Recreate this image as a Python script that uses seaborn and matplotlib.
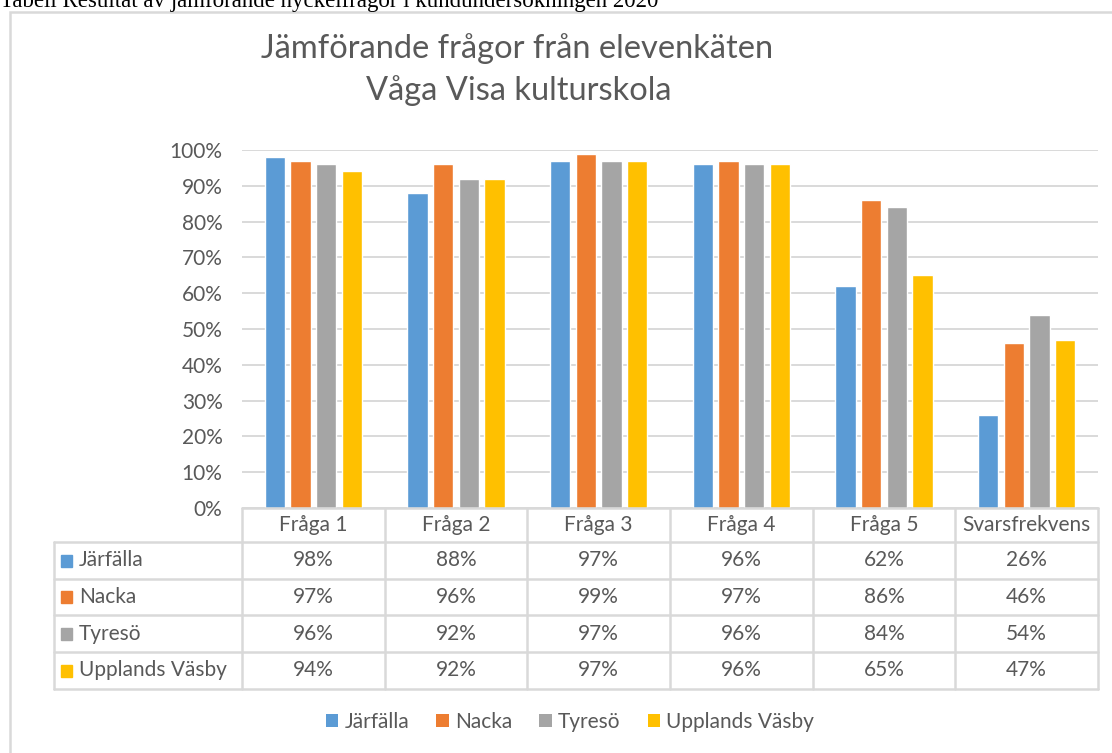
import numpy as np
import pandas as pd
import matplotlib
matplotlib.use('Agg')
import matplotlib.pyplot as plt
import seaborn as sns
from matplotlib.patches import Rectangle, Patch
from matplotlib import transforms

fragor = ['Fråga 1', 'Fråga 2', 'Fråga 3', 'Fråga 4', 'Fråga 5', 'Svarsfrekvens']
kommuner = ['Järfälla', 'Nacka', 'Tyresö', 'Upplands Väsby']
jarfalla = [98, 88, 97, 96, 62, 26]
nacka = [97, 96, 99, 97, 86, 46]
tyreso = [96, 92, 97, 96, 84, 54]
upplands_vasby = [94, 92, 97, 96, 65, 47]
farger = ['#5B9BD5', '#ED7D31', '#A5A5A5', '#FFC000']

titel_rad1 = 'Jämförande frågor från elevenkäten'
titel_rad2 = 'Våga Visa kulturskola'
rubrik = 'Tabell Resultat av jämförande nyckelfrågor i kundundersökningen 2020'

varden = [jarfalla, nacka, tyreso, upplands_vasby]
df = pd.DataFrame({
    'Fråga': fragor * len(kommuner),
    'Kommun': np.repeat(kommuner, len(fragor)),
    'Andel': np.concatenate(varden) / 100.0,
})

sns.set_style('white')
plt.rcParams['font.family'] = ['Lato', 'DejaVu Sans']
textfarg = '#595959'
linjefarg = '#D9D9D9'
fs = 15

W, H = 1112, 753
def fx(px):
    return px / W
def fy(py):
    return 1 - py / H

fig = plt.figure(figsize=(W / 100, H / 100), dpi=100)

# outer chart frame (runs past the right and bottom edge)
fig.patches.append(Rectangle((fx(10), fy(790)), fx(1150) - fx(10), fy(12) - fy(790),
                             transform=fig.transFigure, fill=False,
                             edgecolor=linjefarg, lw=1.8))

# caption above the chart, cut at the top as in the screenshot
fig.text(fx(0), fy(7), rubrik, family='Liberation Serif', fontsize=16.5,
         ha='left', va='baseline', color='black')

fig.text(fx(517), fy(58), titel_rad1, ha='center', va='baseline', fontsize=23.5, color=textfarg)
fig.text(fx(519), fy(100), titel_rad2, ha='center', va='baseline', fontsize=23.5, color=textfarg)

# bar chart
x0, x1, ytop, ybot = 242, 1098, 150, 508
ax = fig.add_axes([fx(x0), fy(ybot), fx(x1) - fx(x0), fy(ytop) - fy(ybot)])
sns.barplot(data=df, x='Fråga', y='Andel', hue='Kommun', hue_order=kommuner,
            order=fragor, palette=farger, width=0.72, gap=0.2, errorbar=None,
            saturation=1, legend=False, ax=ax)
ax.set_ylim(0, 1)
ax.set_xlim(-0.5, len(fragor) - 0.5)
ax.set_yticks(np.arange(0, 1.01, 0.1))
ax.set_yticklabels([f'{int(round(v * 100))}%' for v in np.arange(0, 1.01, 0.1)])
ax.tick_params(axis='y', labelsize=fs, labelcolor=textfarg, length=0, pad=14)
ax.tick_params(axis='x', length=0, labelbottom=False)
ax.set_xlabel('')
ax.set_ylabel('')
ax.yaxis.grid(True, color=linjefarg, lw=1.4)
ax.set_axisbelow(True)
for s in ax.spines.values():
    s.set_visible(False)

# data table under the chart
rad_y = [508, 542, 579, 615, 652, 689]
etikett_x0 = 54
blend = transforms.blended_transform_factory(ax.transData, fig.transFigure)
kant = dict(color=linjefarg, lw=1.8, transform=fig.transFigure)

# header row
fig.add_artist(plt.Line2D([fx(x0), fx(x1)], [fy(rad_y[0])] * 2, **kant))
for i, f in enumerate(fragor):
    ax.text(i, fy((rad_y[0] + rad_y[1]) / 2), f, transform=blend, ha='center',
            va='center', fontsize=fs, color=textfarg, clip_on=False)
# horizontal lines of body rows
for y in rad_y[1:]:
    fig.add_artist(plt.Line2D([fx(etikett_x0), fx(x1)], [fy(y)] * 2, **kant))
# vertical lines
for i in range(len(fragor) + 1):
    xd = ax.transData.transform((i - 0.5, 0))[0] / fig.bbox.width
    fig.add_artist(plt.Line2D([xd, xd], [fy(rad_y[0]), fy(rad_y[-1])], **kant))
fig.add_artist(plt.Line2D([fx(etikett_x0)] * 2, [fy(rad_y[1]), fy(rad_y[-1])], **kant))

for r, (kommun, farg, vals) in enumerate(zip(kommuner, farger, varden)):
    yc = (rad_y[r + 1] + rad_y[r + 2]) / 2
    fig.patches.append(Rectangle((fx(61), fy(yc + 6)), fx(11), 12 / H,
                                 transform=fig.transFigure, color=farg))
    fig.text(fx(79), fy(yc), kommun, ha='left', va='center', fontsize=fs, color=textfarg)
    for i, v in enumerate(vals):
        ax.text(i, fy(yc), f'{v}%', transform=blend, ha='center', va='center',
                fontsize=fs, color=textfarg, clip_on=False)

# legend
handles = [Patch(facecolor=c, edgecolor='none') for c in farger]
fig.legend(handles, kommuner, loc='center', bbox_to_anchor=(fx(570), fy(722)),
           ncol=4, frameon=False, fontsize=fs, labelcolor=textfarg,
           handlelength=0.6, handleheight=0.6, handletextpad=0.3, columnspacing=1.3)

fig.savefig('out.png', dpi=100)
